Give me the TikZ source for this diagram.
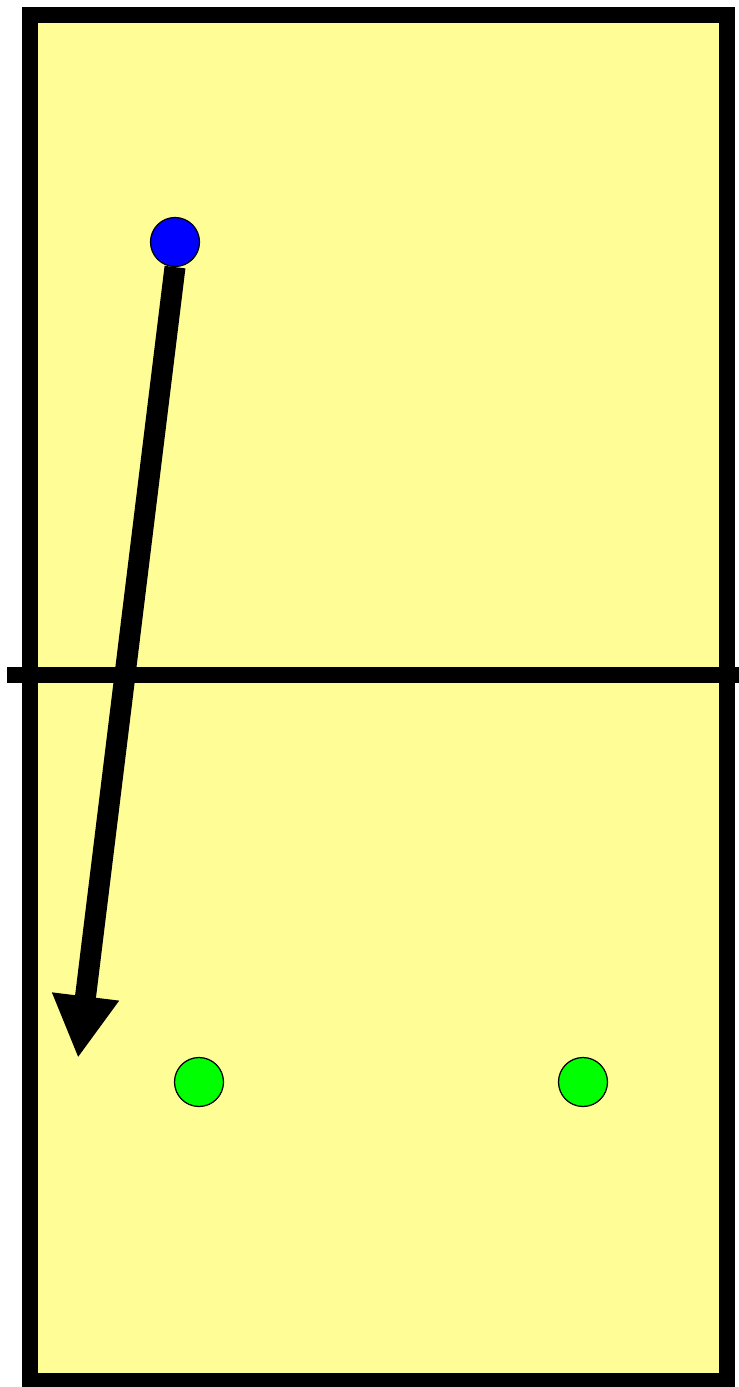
\documentclass[tikz,border=0pt]{standalone}
\usepackage{xcolor}
\usepackage{tikz}
\usetikzlibrary{arrows.meta,positioning}
\definecolor{courtyellow}{RGB}{255,253,150}
\definecolor{attackblue}{RGB}{0,0,255}
\definecolor{defendgreen}{RGB}{0,255,0}

\begin{document}
\begin{tikzpicture}[x=0.02cm, y=-0.02cm, >=Triangle]
  \tikzstyle{court} = [draw, line width=0.32cm, fill=courtyellow]
  \tikzstyle{net} = [draw, line width=0.32cm]
  \tikzstyle{player} = [circle, draw, line width=0.7pt, minimum size=0.98cm, inner sep=0pt]
  \tikzstyle{ballpath} = [->, line width=0.42cm, >={Triangle[length=1.24cm, width=1.26cm]}]

  \useasboundingbox (0,0) rectangle (739,1387);

  % court and net
  \draw[court] (30,15) rectangle (727,1381);
  \draw[net] (7,675) -- (739,675);

  % players
  \node[player, fill=attackblue] (server) at (175,242) {};
  \node[player, fill=defendgreen] (recvleft) at (199,1082) {};
  \node[player, fill=defendgreen] (recvright) at (583,1082) {};

  % serve direction
  \coordinate (target) at (78,1058);
  \draw[ballpath] (server.south) -- (target);
\end{tikzpicture}
\end{document}
